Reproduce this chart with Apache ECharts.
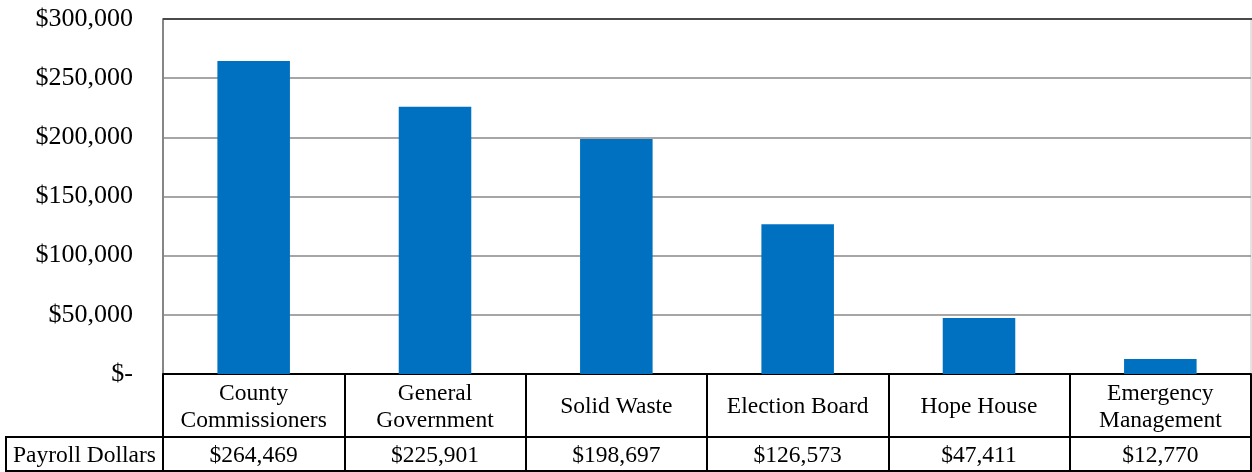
<!DOCTYPE html>
<html>
<head>
<meta charset="utf-8">
<script src="https://cdn.jsdelivr.net/npm/echarts@6/dist/echarts.min.js"></script>
<style>
html,body{margin:0;padding:0;background:#fff;}
#chart{width:1252px;height:472px;}
</style>
</head>
<body>
<div id="chart"></div>
<script>
const categories = ['County\nCommissioners', 'General\nGovernment', 'Solid Waste', 'Election Board', 'Hope House', 'Emergency\nManagement'];
const payrollDollars = [264469, 225901, 198697, 126573, 47411, 12770];
const seriesName = 'Payroll Dollars';
const yTicks = [0, 50000, 100000, 150000, 200000, 250000, 300000];

const FONT = '"Liberation Serif", "Times New Roman", serif';
const fmt = v => v === 0 ? '$-' : '$' + v.toLocaleString('en-US');

const chart = echarts.init(document.getElementById('chart'), null, {renderer: 'canvas'});
const gridTop = 19, gridBottom = 98, gridLeft = 163, gridRight = 1;
chart.setOption({
  animation: false,
  backgroundColor: '#fff',
  grid: {left: gridLeft, right: gridRight, top: gridTop, bottom: gridBottom, show: true, borderColor: '#c8c8c8', borderWidth: 1},
  xAxis: [{
    type: 'category',
    data: categories,
    position: 'bottom',
    axisLine: {show: true, lineStyle: {color: '#000', width: 2}},
    axisTick: {show: true, length: 98, lineStyle: {color: '#000', width: 2}},
    axisLabel: {fontFamily: FONT, fontSize: 23.5, color: '#000', margin: 33, verticalAlign: 'middle', lineHeight: 27, interval: 0}
  }, {
    type: 'category',
    data: categories,
    position: 'bottom',
    offset: 63,
    axisLine: {show: true, lineStyle: {color: '#000', width: 2}},
    axisTick: {show: false},
    axisLabel: {fontFamily: FONT, fontSize: 23.5, color: '#000', margin: 19, verticalAlign: 'middle', interval: 0,
      formatter: (v, i) => fmt(payrollDollars[i])}
  }],
  yAxis: {
    type: 'value',
    min: yTicks[0], max: yTicks[yTicks.length - 1], interval: yTicks[1] - yTicks[0],
    axisLine: {show: true, lineStyle: {color: '#868686', width: 2}},
    axisTick: {show: false},
    splitLine: {lineStyle: {color: '#a6a6a6', width: 2}},
    axisLabel: {fontFamily: FONT, fontSize: 26, color: '#000', margin: 30, padding: [4, 0, 0, 0], formatter: fmt}
  },
  series: [{
    name: seriesName,
    type: 'bar',
    data: payrollDollars,
    barWidth: '40%',
    itemStyle: {color: '#0070C0'}
  }],
  graphic: [
    {type: 'line', shape: {x1: gridLeft, y1: gridTop, x2: 1252, y2: gridTop}, style: {stroke: '#4a4a4a', lineWidth: 2}, z: 100},
    {type: 'rect', shape: {x: 6, y: 437, width: gridLeft - 6, height: 34}, style: {fill: 'none', stroke: '#000', lineWidth: 2}, z: 100},
    {type: 'line', shape: {x1: 6, y1: 471, x2: 1252, y2: 471}, style: {stroke: '#000', lineWidth: 2}, z: 100},
    {type: 'text', x: (6 + gridLeft) / 2, y: 456, style: {text: seriesName, font: '23.5px ' + FONT, fill: '#000', align: 'center', verticalAlign: 'middle'}, z: 100}
  ]
});
</script>
</body>
</html>
